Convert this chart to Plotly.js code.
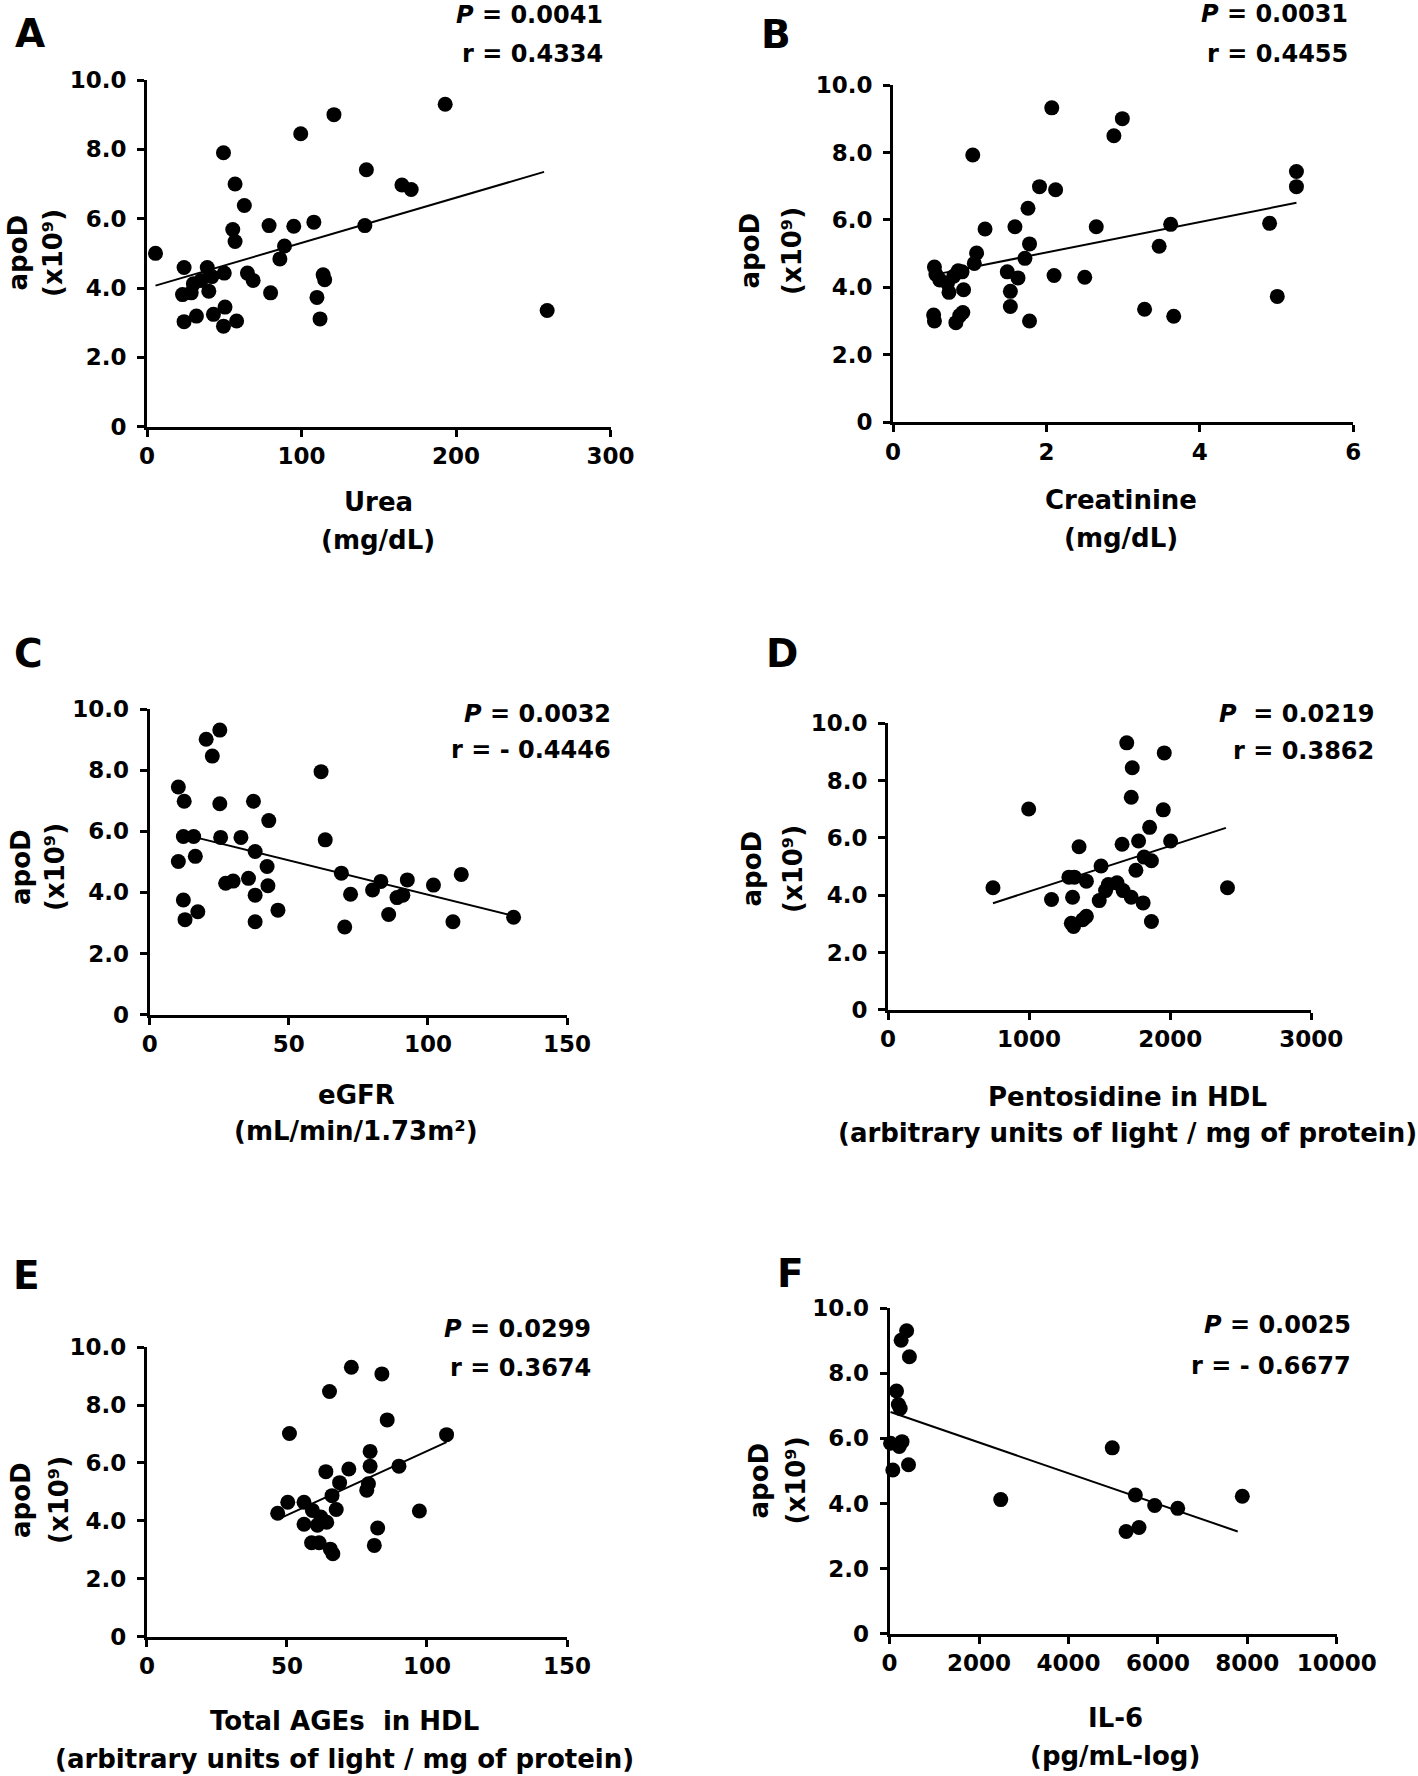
<!DOCTYPE html>
<html>
<head>
<meta charset="utf-8">
<script src="https://cdn.plot.ly/plotly-3.0.1.min.js"></script>
<style>
  html, body { margin: 0; padding: 0; background: #ffffff; }
  #chart { width: 1418px; height: 1776px; }
</style>
</head>
<body>
<div id="chart"></div>
<script>
// ------------------------------------------------------------------
// DATA
// ------------------------------------------------------------------
const apodTickVals = [0, 2, 4, 6, 8, 10];
const apodTickText = ["0", "2.0", "4.0", "6.0", "8.0", "10.0"];

// A – Urea
const ureaX = [5.5, 24, 23, 24, 28.6, 32, 30, 35, 39, 40, 42, 43, 50, 49.5, 50.5, 49.5, 57, 55.5, 57, 58,
               63, 65, 68.7, 79, 80, 86, 89, 95, 99.5, 108, 110, 112, 114, 115, 121, 141, 142, 165, 171, 193, 259];
const ureaApoD = [5.0, 4.59, 3.81, 3.03, 3.86, 3.19, 4.12, 4.22, 4.59, 3.91, 4.33, 3.24, 4.43, 7.90, 3.45, 2.90, 7.0, 5.69, 5.34, 3.05,
                  6.38, 4.43, 4.22, 5.80, 3.86, 4.84, 5.21, 5.78, 8.45, 5.90, 3.73, 3.11, 4.38, 4.24, 9.0, 5.80, 7.41, 6.97, 6.84, 9.30, 3.35];
const ureaFitX = [5.5, 257];
const ureaFitY = [4.07, 7.35];
const ureaTickVals = [0, 100, 200, 300];
const ureaTickText = ["0", "100", "200", "300"];

// B – Creatinine
const creatX = [0.54, 0.56, 0.61, 0.53, 0.54, 0.71, 0.73, 0.79, 0.85, 0.82, 0.87, 0.91, 0.92, 0.90, 1.04, 1.06, 1.09, 1.20, 1.49, 1.53, 1.53,
                1.59, 1.63, 1.72, 1.76, 1.78, 1.78, 1.91, 2.07, 2.10, 2.12, 2.50, 2.65, 2.88, 2.99, 3.28, 3.47, 3.62, 3.66, 4.91, 5.01, 5.26, 5.26];
const creatApoD = [4.60, 4.38, 4.22, 3.18, 3.00, 4.12, 3.85, 4.33, 4.49, 2.95, 3.16, 3.25, 3.93, 4.46, 7.93, 4.71, 5.02, 5.73, 4.46, 3.88, 3.43,
                   5.80, 4.28, 4.86, 6.35, 5.29, 3.00, 6.99, 9.33, 4.35, 6.90, 4.30, 5.80, 8.50, 9.01, 3.35, 5.22, 5.87, 3.14, 5.90, 3.73, 7.44, 6.99];
const creatFitX = [0.53, 5.26];
const creatFitY = [4.37, 6.51];
const creatTickVals = [0, 2, 4, 6];
const creatTickText = ["0", "2", "4", "6"];

// C – eGFR
const egfrX = [10.3, 12.4, 12.1, 10.3, 12.1, 12.7, 15.8, 16.4, 17.3, 20.3, 22.5, 25.2, 25.2, 25.5, 27.3, 30, 32.8, 35.5, 37.3, 37.9, 37.9,
               37.9, 42.2, 42.5, 42.8, 46.1, 61.6, 63.1, 68.9, 70.1, 72.2, 80.1, 83.1, 85.9, 88.9, 91, 92.6, 102, 109, 112, 130.8];
const egfrApoD = [7.45, 6.98, 5.83, 5.01, 3.75, 3.11, 5.83, 5.18, 3.37, 9.01, 8.46, 9.31, 6.90, 5.80, 4.30, 4.37, 5.80, 4.46, 6.98, 5.34, 3.91,
                  3.04, 4.85, 4.22, 6.35, 3.42, 7.95, 5.72, 4.63, 2.87, 3.94, 4.08, 4.36, 3.28, 3.83, 3.91, 4.41, 4.24, 3.04, 4.59, 3.19];
const egfrFitX = [10.3, 130.8];
const egfrFitY = [5.94, 3.23];
const egfrTickVals = [0, 50, 100, 150];
const egfrTickText = ["0", "50", "100", "150"];

// D – Pentosidine in HDL
const pentoX = [744, 997, 1159, 1308, 1282, 1321, 1299, 1315, 1354, 1380, 1406, 1406, 1497, 1510, 1542, 1562, 1623, 1666, 1659, 1692,
                1724, 1724, 1731, 1757, 1776, 1808, 1815, 1854, 1867, 1867, 1951, 1958, 2003, 2406];
const pentoApoD = [4.26, 7.01, 3.85, 3.93, 4.63, 4.63, 3.02, 2.91, 5.69, 3.14, 3.26, 4.49, 3.81, 5.02, 4.16, 4.37, 4.43, 4.16, 5.78, 9.32,
                   3.93, 7.42, 8.45, 4.87, 5.89, 3.73, 5.33, 6.37, 5.20, 3.08, 6.98, 8.97, 5.89, 4.26];
const pentoFitX = [744, 2395];
const pentoFitY = [3.72, 6.35];
const pentoTickVals = [0, 1000, 2000, 3000];
const pentoTickText = ["0", "1000", "2000", "3000"];

// E – Total AGEs in HDL
const agesX = [46.7, 50.3, 50.9, 56.1, 56.1, 58.8, 59.1, 60.9, 61.5, 62.1, 64.2, 63.9, 65.2, 65.5, 66.4, 66.1, 67.6, 68.8, 72.1, 73,
               78.5, 79.1, 79.7, 79.7, 81.2, 82.4, 83.9, 85.8, 90, 97.3, 107];
const agesApoD = [4.26, 4.64, 7.02, 4.64, 3.88, 3.24, 4.36, 3.85, 3.24, 4.13, 3.95, 5.70, 8.47, 3.02, 2.86, 4.87, 4.39, 5.32, 5.79, 9.31,
                  5.06, 5.28, 5.89, 6.40, 3.15, 3.75, 9.08, 7.49, 5.89, 4.34, 6.98];
const agesFitX = [46.7, 107];
const agesFitY = [4.05, 6.72];
const agesTickVals = [0, 50, 100, 150];
const agesTickText = ["0", "50", "100", "150"];

// F – IL-6
const il6X = [381, 258, 443, 155, 196, 237, 21, 216, 278, 72, 423, 2485, 4979, 5289, 5495, 5577, 5928, 6443, 7887];
const il6ApoD = [9.31, 9.02, 8.51, 7.46, 7.04, 6.92, 5.85, 5.75, 5.90, 5.03, 5.19, 4.12, 5.71, 3.14, 4.26, 3.26, 3.94, 3.85, 4.22];
const il6FitX = [21, 7784];
const il6FitY = [6.81, 3.14];
const il6TickVals = [0, 2000, 4000, 6000, 8000, 10000];
const il6TickText = ["0", "2000", "4000", "6000", "8000", "10000"];

// Texts
const panelLetters = ["A", "B", "C", "D", "E", "F"];
const pValues = ["<i>P</i> = 0.0041", "<i>P</i> = 0.0031", "<i>P</i> = 0.0032", "<i>P</i>\u00a0\u00a0= 0.0219", "<i>P</i> = 0.0299", "<i>P</i> = 0.0025"];
const rValues = ["r = 0.4334", "r = 0.4455", "r = - 0.4446", "r = 0.3862", "r = 0.3674", "r = - 0.6677"];
const xTitleLine1 = ["Urea", "Creatinine", "eGFR", "Pentosidine in HDL", "Total AGEs\u00a0\u00a0in HDL", "IL-6"];
const xTitleLine2 = ["(mg/dL)", "(mg/dL)", "(mL/min/1.73m\u00b2)",
                     "(arbitrary units of light / mg of protein)", "(arbitrary units of light / mg of protein)", "(pg/mL-log)"];
const yTitleLine1 = "apoD";
const yTitleLine2 = "(x10\u2079)";

// ------------------------------------------------------------------
// LAYOUT (pixel geometry of each panel on the 1418 x 1776 page)
// ------------------------------------------------------------------
const W = 1418, H = 1776;
const panels = [
  { x: ureaX,  y: ureaApoD,  fx: ureaFitX,  fy: ureaFitY,  tv: ureaTickVals,  tt: ureaTickText,
    box: [147, 610.5, 80, 426.7],
    letter: [15, 47], stats: [603, 23, 62], xt: [378.5, 511, 549], yt: [17.5, 53, 253] },
  { x: creatX, y: creatApoD, fx: creatFitX, fy: creatFitY, tv: creatTickVals, tt: creatTickText,
    box: [893, 1353.2, 85.3, 422],
    letter: [761, 47.5], stats: [1347.5, 22.5, 62], xt: [1121, 509, 547], yt: [749.5, 792, 251] },
  { x: egfrX,  y: egfrApoD,  fx: egfrFitX,  fy: egfrFitY,  tv: egfrTickVals,  tt: egfrTickText,
    box: [149.7, 567, 709, 1014.7],
    letter: [14, 666.5], stats: [611, 722, 758.5], xt: [356, 1104, 1140], yt: [21, 55, 867] },
  { x: pentoX, y: pentoApoD, fx: pentoFitX, fy: pentoFitY, tv: pentoTickVals, tt: pentoTickText,
    box: [888, 1311.3, 723.4, 1009.7],
    letter: [765.5, 667], stats: [1374, 722, 759], xt: [1127, 1106, 1142], yt: [751.5, 793, 869] },
  { x: agesX,  y: agesApoD,  fx: agesFitX,  fy: agesFitY,  tv: agesTickVals,  tt: agesTickText,
    box: [146.9, 567, 1347.3, 1636.5],
    letter: [13, 1288.5], stats: [590.5, 1337, 1376.5], xt: [344, 1730, 1768], yt: [21, 59, 1500] },
  { x: il6X,   y: il6ApoD,   fx: il6FitX,   fy: il6FitY,   tv: il6TickVals,   tt: il6TickText,
    box: [889.6, 1336.8, 1308.3, 1633.6],
    letter: [777, 1286.5], stats: [1350.5, 1333, 1374.5], xt: [1115, 1727, 1765], yt: [758.5, 795.5, 1481] }
];

const FAMILY = "DejaVu Sans";
const tickFont = { family: FAMILY, size: 23, color: "#000", weight: "bold" };
const axisStyle = {
  showline: true, linecolor: "#000", linewidth: 3,
  ticks: "outside", ticklen: 7, tickwidth: 3, tickcolor: "#000",
  showgrid: false, zeroline: false, fixedrange: true,
  tickfont: tickFont, automargin: false
};

const traces = [];
const annotations = [];
const layout = {
  width: W, height: H,
  margin: { l: 0, r: 0, t: 0, b: 0, pad: 0 },
  paper_bgcolor: "#ffffff", plot_bgcolor: "rgba(0,0,0,0)",
  showlegend: false,
  font: { family: FAMILY, color: "#000" },
  annotations: annotations
};

function txt(x, y, text, size, xanchor, extra) {
  annotations.push(Object.assign({
    xref: "paper", yref: "paper", x: x / W, y: 1 - y / H,
    text: text, showarrow: false,
    xanchor: xanchor, yanchor: "middle",
    borderpad: 0, borderwidth: 0,
    font: { family: FAMILY, size: size, color: "#000", weight: "bold" }
  }, extra || {}));
}

panels.forEach((p, i) => {
  const n = i === 0 ? "" : String(i + 1);
  const [x0, x1, yTop, yBot] = p.box;
  layout["xaxis" + n] = Object.assign({}, axisStyle, {
    domain: [x0 / W, x1 / W], anchor: "y" + n,
    range: [0, p.tv[p.tv.length - 1]],
    tickmode: "array", tickvals: p.tv, ticktext: p.tt,
    ticklabelstandoff: 0
  });
  layout["yaxis" + n] = Object.assign({}, axisStyle, {
    domain: [1 - yBot / H, 1 - yTop / H], anchor: "x" + n,
    range: [0, 10],
    tickmode: "array", tickvals: apodTickVals, ticktext: apodTickText,
    ticklabelstandoff: 6
  });
  traces.push({
    type: "scatter", mode: "markers", x: p.x, y: p.y,
    xaxis: "x" + n, yaxis: "y" + n, cliponaxis: false, hoverinfo: "skip",
    marker: { size: 15, color: "#000", line: { width: 0 } }
  });
  traces.push({
    type: "scatter", mode: "lines", x: p.fx, y: p.fy,
    xaxis: "x" + n, yaxis: "y" + n, cliponaxis: false, hoverinfo: "skip",
    line: { color: "#000", width: 2 }
  });

  // panel letter
  txt(p.letter[0], p.letter[1] - 0.346 * 39, panelLetters[i], 39, "left");
  // statistics
  txt(p.stats[0], p.stats[1] - 0.346 * 24, pValues[i], 24, "right");
  txt(p.stats[0], p.stats[2] - 0.346 * 24, rValues[i], 24, "right");
  // x-axis title (two lines)
  txt(p.xt[0], p.xt[1] - 0.346 * 26, xTitleLine1[i], 26, "center");
  txt(p.xt[0], p.xt[2] - 0.346 * 26, xTitleLine2[i], 26, "center");
  // y-axis title (two rotated lines)
  txt(p.yt[0], p.yt[2], yTitleLine1, 26, "center", { textangle: -90 });
  txt(p.yt[1], p.yt[2], yTitleLine2, 26, "center", { textangle: -90 });
});

Plotly.newPlot("chart", traces, layout, { staticPlot: true, displayModeBar: false });
</script>
</body>
</html>
